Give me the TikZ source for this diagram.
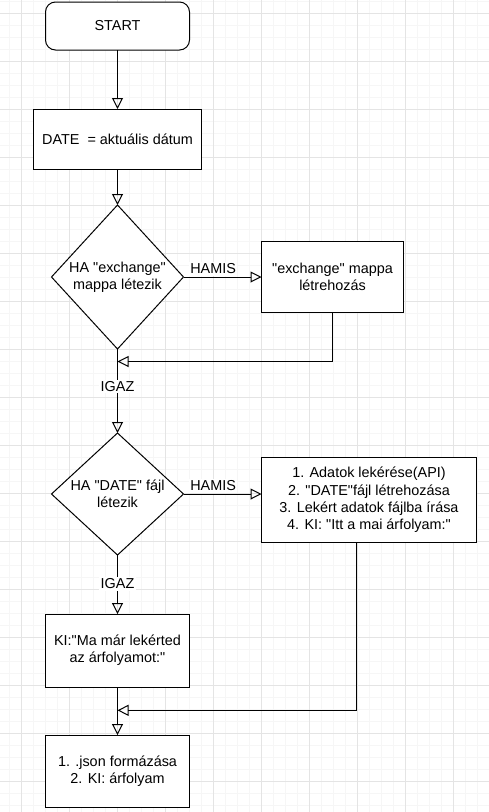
\documentclass[tikz,border=0pt]{standalone}
\usepackage{fontspec}
\setmainfont{Liberation Sans}[Ligatures=TeXOff]
\usetikzlibrary{arrows.meta,positioning,shapes.geometric}
\definecolor{gridmajor}{HTML}{E4E4E4}
\definecolor{gridminor}{HTML}{F6F6F6}

\begin{document}
\begin{tikzpicture}[
      x=1pt, y=-1pt,
      font=\fontsize{14.4}{17.3}\selectfont,
      line width=1pt,
      box/.style={draw, minimum width=144pt, minimum height=60pt,
                  align=center, fill=white, inner sep=2pt, outer sep=0pt},
      startbox/.style={box, rounded corners=10pt, minimum height=48pt},
      cond/.style={draw, diamond, aspect=1, inner sep=0pt, outer sep=0pt,
                   align=center, fill=white, minimum width=132pt},
      lbl/.style={fill=white, inner sep=1.5pt},
      arr/.style={-{Triangle[open, length=11pt, width=11pt]}}
    ]
    \useasboundingbox (0,0) rectangle (489,812);
    % background grid
    \foreach \gx in {0,...,40}
      \draw[gridminor, line width=0.6pt] (9.3+12*\gx,0) -- (9.3+12*\gx,812);
    \foreach \gy in {0,...,67}
      \draw[gridminor, line width=0.6pt] (0,1.3+12*\gy) -- (489,1.3+12*\gy);
    \foreach \gx in {0,...,9}
      \draw[gridmajor, line width=0.8pt] (21.3+48*\gx,0) -- (21.3+48*\gx,812);
    \foreach \gy in {0,...,16}
      \draw[gridmajor, line width=0.8pt] (0,13.3+48*\gy) -- (489,13.3+48*\gy);

    \node[startbox] (start) at (117.5,26) {START};
    \node[box, minimum width=168pt, below=59pt of start] (date)
      {DATE\ \ = aktuális dátum};
    \node[cond, minimum height=144pt, below=36pt of date] (dir)
      {HA "exchange"\\mappa létezik};
    \node[box, minimum width=142pt, minimum height=71pt, right=78pt of dir] (mkdir)
      {"exchange" mappa\\létrehozás};
    \coordinate[below=12.5pt of dir] (join1);
    \node[cond, minimum height=121pt, below=84pt of dir] (file)
      {HA "DATE" fájl\\létezik};
    \node[box, minimum width=215pt, minimum height=85pt,
          right=78pt of file, yshift=-6pt] (fetch)
      {1. Adatok lekérése(API)\\2. "DATE"fájl létrehozása\\
       3. Lekért adatok fájlba írása\\4. KI: "Itt a mai árfolyam:"};
    \node[box, minimum height=73pt, below=59pt of file] (cached)
      {KI:"Ma már lekérted\\az árfolyamot:"};
    \coordinate[below=23.3pt of cached] (join2);
    \node[box, minimum height=72pt, below=48pt of cached] (out)
      {1. .json formázása\\2. KI: árfolyam};

    \draw[arr] (start) -- (date);
    \draw[arr] (date) -- (dir);
    \draw[arr] (dir.east) -- node[lbl, above=1pt, pos=0.38] (no1) {HAMIS} (mkdir.west);
    \draw[arr] (mkdir.south) |- (join1);
    \draw[arr] (dir.south) -- node[lbl, pos=0.45] (yes1) {IGAZ} (file.north);
    \draw[arr] (file.east) -- node[lbl, above=1pt, pos=0.38] (no2) {HAMIS} (file.east -| fetch.west);
    \draw[arr] ([xshift=-12.2pt]fetch.south) |- (join2);
    \draw[arr] (file.south) -- node[lbl, pos=0.49] (yes2) {IGAZ} (cached.north);
    \draw[arr] (cached) -- (out);
  \end{tikzpicture}
\end{document}
